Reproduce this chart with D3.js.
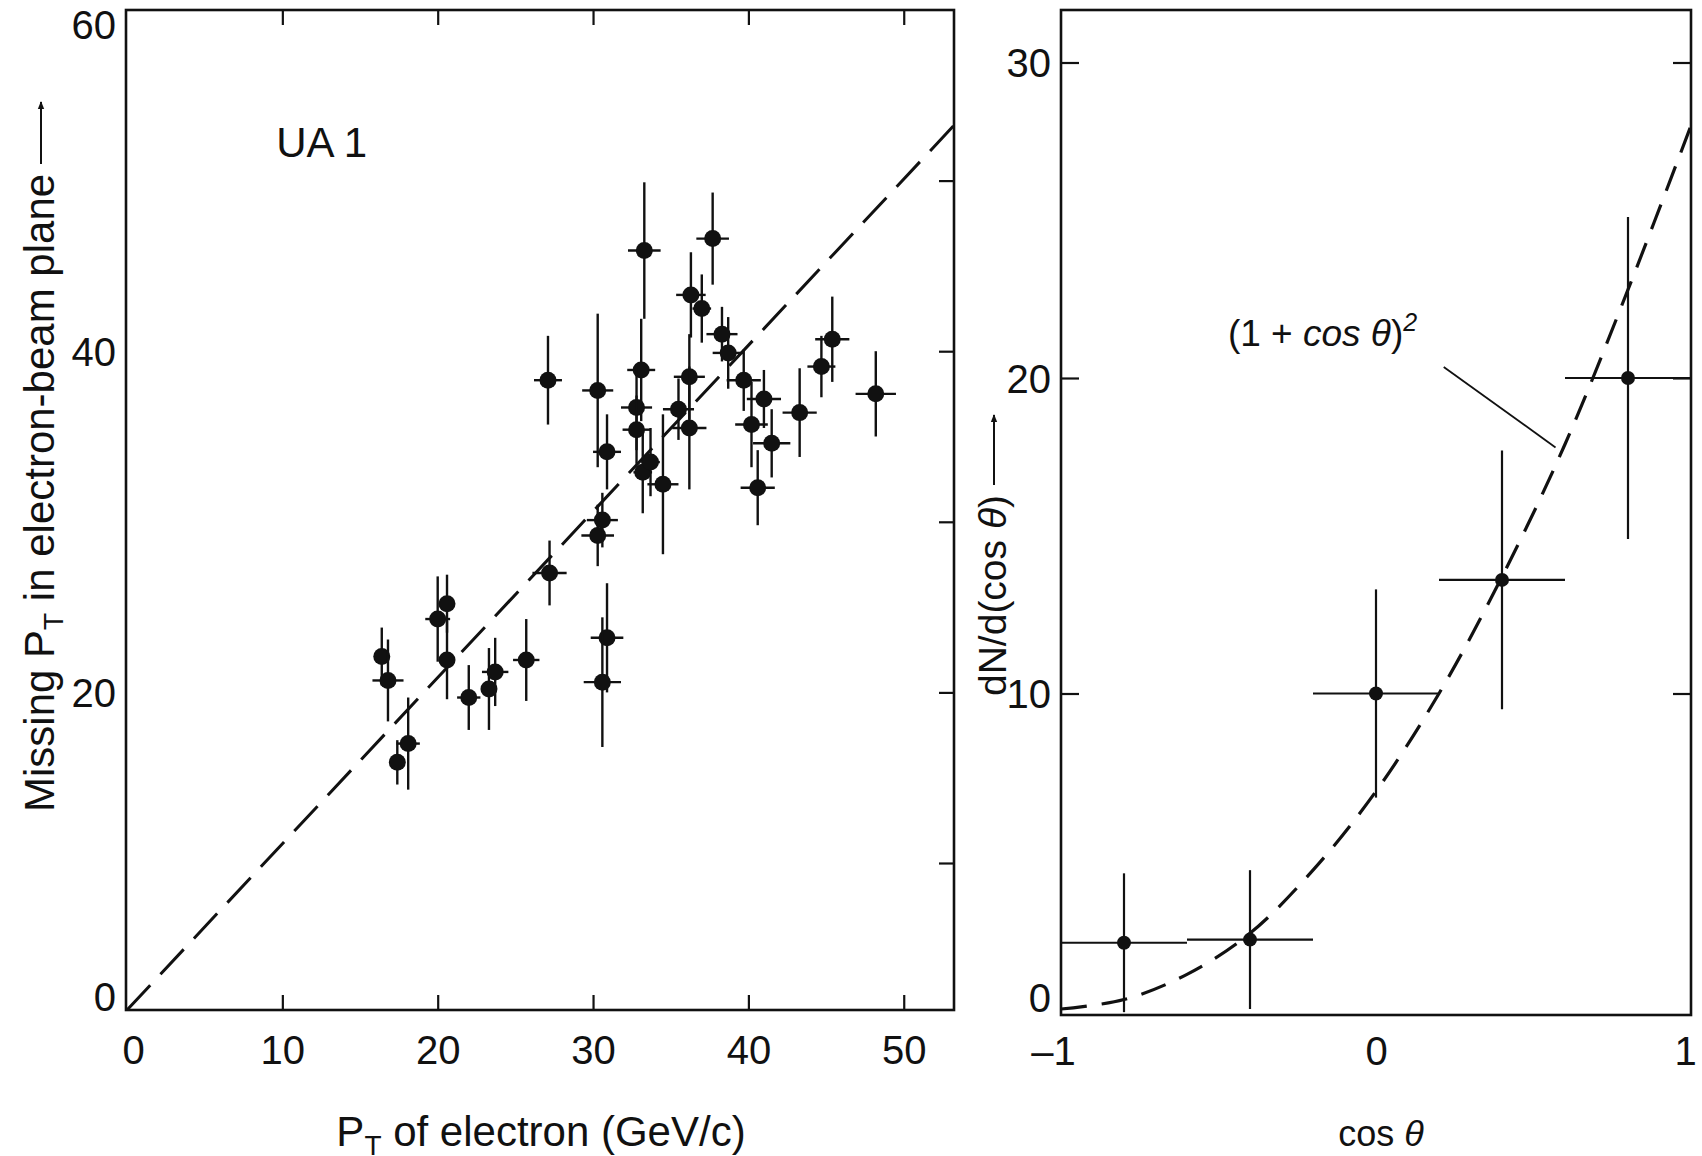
<!DOCTYPE html>
<html>
<head>
<meta charset="utf-8">
<script src="https://cdn.jsdelivr.net/npm/d3@7"></script>
<style>
  body { margin: 0; background: #fff; }
  svg { display: block; }
  .tick-label { font-family: "Liberation Sans Narrow", "Arial Narrow", "Liberation Sans", sans-serif; font-size: 40px; fill: #111; }
  .title { font-family: "Liberation Sans", Helvetica, Arial, sans-serif; font-size: 42px; fill: #111; }
</style>
</head>
<body>
<svg id="chart" width="1702" height="1156"></svg>
<script>
// left panel: missing pT vs electron pT (GeV/c), with errors
var ptElectron = [16.4, 16.8, 17.4, 18.1, 20.0, 20.6, 20.6, 22.0, 23.3, 23.7, 25.7, 27.2, 30.3, 30.6, 30.9, 30.6,
  33.2, 33.7, 34.5, 40.6, 27.1, 30.3, 33.3, 37.7, 36.3, 37.0, 38.3, 38.7, 33.1, 36.2, 32.8, 35.5, 32.8, 36.2,
  30.9, 39.7, 41.0, 40.2, 41.5, 43.3, 44.7, 45.4, 48.2];
var ptMissing = [22.1, 20.7, 15.9, 17.0, 24.3, 25.2, 21.9, 19.7, 20.2, 21.2, 21.9, 27.0, 29.2, 30.1, 23.2, 20.6,
  32.9, 33.5, 32.2, 32.0, 38.3, 37.7, 45.9, 46.6, 43.3, 42.5, 41.0, 39.9, 38.9, 38.5, 36.7, 36.6, 35.4, 35.5,
  34.1, 38.3, 37.2, 35.7, 34.6, 36.4, 39.1, 40.7, 37.5];
var ptElectronErr = [0.4, 1.0, 0.5, 0.75, 0.8, 0.5, 0.5, 0.75, 0.5, 0.85, 0.85, 1.1, 1.05, 1.0, 1.05, 1.2,
  0.6, 0.6, 1.0, 1.1, 0.9, 1.0, 1.05, 1.05, 0.95, 0.6, 1.0, 1.0, 0.9, 1.0, 1.0, 1.0, 0.9, 1.1,
  0.9, 1.1, 1.1, 1.05, 1.2, 1.1, 0.9, 1.1, 1.3];
var ptMissingErr = [1.7, 2.4, 1.3, 2.7, 2.5, 1.7, 2.3, 1.9, 2.4, 2.0, 2.4, 1.9, 1.8, 1.6, 3.2, 3.8,
  2.4, 2.0, 4.1, 2.2, 2.6, 4.5, 4.0, 2.7, 2.5, 2.0, 1.6, 2.1, 3.0, 2.5, 2.5, 1.8, 2.0, 3.6,
  2.2, 1.8, 1.7, 2.5, 2.0, 2.6, 1.8, 2.5, 2.5];
var diagonal = [[0, 0], [53.3, 53.3]];

// right panel: angular distribution
var cosBins = [-0.8, -0.4, 0.0, 0.4, 0.8];
var binHalfWidth = [0.2, 0.2, 0.2, 0.2, 0.2];
var dNdCos = [2.1, 2.2, 10.0, 13.6, 20.0];
var dNdCosErr = [2.2, 2.2, 3.3, 4.1, 5.1];
var curveCos = [-1, -0.8, -0.6, -0.4, -0.2, 0, 0.2, 0.4, 0.6, 0.8, 1];
var curveVal = [0, 0.3, 1.1, 2.4, 4.4, 6.9, 10.0, 13.7, 17.9, 22.8, 28.0];

var leftXTicks = [0, 10, 20, 30, 40, 50];
var leftYLabels = [0, 20, 40, 60];
var leftMinor = [10, 20, 30, 40, 50];
var rightXLabels = [-1, 0, 1];
var rightYLabels = [0, 10, 20, 30];

var svg = d3.select('#chart');
svg.append('rect').attr('width', 1702).attr('height', 1156).attr('fill', '#fff');

// ---- left panel ----
var L = {left: 126, right: 954, top: 10, bottom: 1010};
var x1 = d3.scaleLinear().domain([0, 53.3]).range([127, 955]);
// the printed figure is slightly squeezed below 10
var y1 = d3.scaleLinear().domain([0, 10, 60]).range([1010, 863, 10]);

var gL = svg.append('g').attr('class', 'left-panel');

gL.append('path')
  .datum(diagonal)
  .attr('d', d3.line().x(function(d) { return x1(d[0]); }).y(function(d) { return y1(d[1]); }))
  .attr('fill', 'none').attr('stroke', '#111').attr('stroke-width', 3)
  .attr('stroke-dasharray', '34,15');

var lpts = ptElectron.map(function(v, i) {
  return {x: v, y: ptMissing[i], ex: ptElectronErr[i], ey: ptMissingErr[i]};
});
var bars = gL.append('g').selectAll('g').data(lpts).enter().append('g');
bars.append('line')
  .attr('x1', function(d) { return x1(d.x - d.ex); }).attr('x2', function(d) { return x1(d.x + d.ex); })
  .attr('y1', function(d) { return y1(d.y); }).attr('y2', function(d) { return y1(d.y); })
  .attr('stroke', '#111').attr('stroke-width', 2.4);
bars.append('line')
  .attr('x1', function(d) { return x1(d.x); }).attr('x2', function(d) { return x1(d.x); })
  .attr('y1', function(d) { return y1(d.y - d.ey); }).attr('y2', function(d) { return y1(d.y + d.ey); })
  .attr('stroke', '#111').attr('stroke-width', 2.4);
bars.append('circle')
  .attr('cx', function(d) { return x1(d.x); }).attr('cy', function(d) { return y1(d.y); })
  .attr('r', 8.5).attr('fill', '#111');

// inward ticks: top, bottom, right
gL.append('g').attr('transform', 'translate(0,' + L.bottom + ')')
  .call(d3.axisTop(x1).tickValues(leftMinor).tickSize(15).tickFormat(''));
gL.append('g').attr('transform', 'translate(0,' + L.top + ')')
  .call(d3.axisBottom(x1).tickValues(leftMinor).tickSize(15).tickFormat(''));
gL.append('g').attr('transform', 'translate(' + L.right + ',0)')
  .call(d3.axisLeft(y1).tickValues(leftMinor).tickSize(15).tickFormat(''));

// labelled axes
var xl = gL.append('g').attr('transform', 'translate(0,' + L.bottom + ')')
  .call(d3.axisBottom(x1).tickValues(leftXTicks).tickSize(0).tickPadding(26).tickFormat(d3.format('d')));
xl.selectAll('text').attr('class', 'tick-label').attr('dx', function(d) { return d === 0 ? 6 : 0; });
var yl = gL.append('g').attr('transform', 'translate(' + L.left + ',0)')
  .call(d3.axisLeft(y1).tickValues(leftYLabels).tickSize(0).tickPadding(10).tickFormat(d3.format('d')));
yl.selectAll('text').attr('class', 'tick-label')
  .attr('dy', function(d) { return d === 60 ? '0.7em' : d === 0 ? '0.02em' : '0.35em'; });

gL.append('rect')
  .attr('x', L.left).attr('y', L.top).attr('width', L.right - L.left).attr('height', L.bottom - L.top)
  .attr('fill', 'none').attr('stroke', '#111').attr('stroke-width', 2.6);

gL.append('text').attr('class', 'title')
  .attr('x', x1(9.6)).attr('y', y1(51.4)).text('UA 1');

// ---- right panel ----
var R = {left: 1061, right: 1691, top: 10, bottom: 1015};
var x2 = d3.scaleLinear().domain([-1, 1]).range([1061, 1691]);
var y2 = d3.scaleLinear().domain([0, 30]).range([1009, 62.5]);

var gR = svg.append('g').attr('class', 'right-panel');

gR.append('path')
  .datum(curveCos.map(function(c, i) { return [c, curveVal[i]]; }))
  .attr('d', d3.line().curve(d3.curveCatmullRom).x(function(d) { return x2(d[0]); }).y(function(d) { return y2(d[1]); }))
  .attr('fill', 'none').attr('stroke', '#111').attr('stroke-width', 3.2)
  .attr('stroke-dasharray', '26,15');

var rpts = cosBins.map(function(c, i) {
  return {x: c, w: binHalfWidth[i], y: dNdCos[i], e: dNdCosErr[i]};
});
var rb = gR.append('g').selectAll('g').data(rpts).enter().append('g');
rb.append('line')
  .attr('x1', function(d) { return x2(Math.max(-1, d.x - d.w)); }).attr('x2', function(d) { return x2(Math.min(1, d.x + d.w)); })
  .attr('y1', function(d) { return y2(d.y); }).attr('y2', function(d) { return y2(d.y); })
  .attr('stroke', '#111').attr('stroke-width', 2.2);
rb.append('line')
  .attr('x1', function(d) { return x2(d.x); }).attr('x2', function(d) { return x2(d.x); })
  .attr('y1', function(d) { return Math.min(R.bottom, y2(d.y - d.e)); }).attr('y2', function(d) { return y2(d.y + d.e); })
  .attr('stroke', '#111').attr('stroke-width', 2.2);
rb.append('circle')
  .attr('cx', function(d) { return x2(d.x); }).attr('cy', function(d) { return y2(d.y); })
  .attr('r', 7).attr('fill', '#111');

gR.append('g').attr('transform', 'translate(' + R.left + ',0)')
  .call(d3.axisRight(y2).tickValues([10, 20, 30]).tickSize(18).tickFormat(''));
gR.append('g').attr('transform', 'translate(' + R.right + ',0)')
  .call(d3.axisLeft(y2).tickValues([10, 20, 30]).tickSize(18).tickFormat(''));

var xr = gR.append('g').attr('transform', 'translate(0,' + R.bottom + ')')
  .call(d3.axisBottom(x2).tickValues(rightXLabels).tickSize(0).tickPadding(22)
    .tickFormat(function(d) { return d < 0 ? '\u2013' + (-d) : d; }));
xr.selectAll('text').attr('class', 'tick-label')
  .attr('dx', function(d) { return d === -1 ? -8 : d === 1 ? -6 : 0; });
var yr = gR.append('g').attr('transform', 'translate(' + R.left + ',0)')
  .call(d3.axisLeft(y2).tickValues(rightYLabels).tickSize(0).tickPadding(10).tickFormat(d3.format('d')));
yr.selectAll('text').attr('class', 'tick-label')
  .attr('dy', function(d) { return d === 0 ? '0.05em' : '0.35em'; });

gR.append('rect')
  .attr('x', R.left).attr('y', R.top).attr('width', R.right - R.left).attr('height', R.bottom - R.top)
  .attr('fill', 'none').attr('stroke', '#111').attr('stroke-width', 2.6);

// formula label and leader line
var formula = gR.append('text').attr('class', 'title').style('font-size', '37px')
  .attr('x', x2(-0.47)).attr('y', y2(21.0));
formula.append('tspan').text('(1 + ');
formula.append('tspan').style('font-style', 'italic').text('cos \u03b8');
formula.append('tspan').text(')');
formula.append('tspan').attr('dy', -15).style('font-size', '25px').style('font-style', 'italic').text('2');
gR.append('line')
  .attr('x1', x2(0.215)).attr('y1', y2(20.35)).attr('x2', x2(0.57)).attr('y2', y2(17.8))
  .attr('stroke', '#111').attr('stroke-width', 1.8);

// ---- axis titles ----
var defs = svg.append('defs');
defs.append('marker').attr('id', 'head').attr('viewBox', '0 0 10 10')
  .attr('refX', 9).attr('refY', 5).attr('markerWidth', 4).attr('markerHeight', 4).attr('orient', 'auto')
  .append('path').attr('d', 'M0,1 L10,5 L0,9 Z').attr('fill', '#111');

var xt = svg.append('text').attr('class', 'title').attr('text-anchor', 'middle')
  .attr('x', 541).attr('y', 1146);
xt.append('tspan').text('P');
xt.append('tspan').attr('dy', 9).style('font-size', '28px').text('T');
xt.append('tspan').attr('dy', -9).text(' of electron (GeV/c)');

var xt2 = svg.append('text').attr('class', 'title').style('font-size', '36px').attr('text-anchor', 'middle')
  .attr('x', 1381).attr('y', 1146);
xt2.append('tspan').text('cos ');
xt2.append('tspan').style('font-style', 'italic').text('\u03b8');

// left y title, rotated, with arrow
var yt = svg.append('g').attr('transform', 'translate(54,812) rotate(-90)');
var ytText = yt.append('text').attr('class', 'title').attr('x', 0).attr('y', 0);
ytText.append('tspan').text('Missing P');
ytText.append('tspan').attr('dy', 9).style('font-size', '28px').text('T');
ytText.append('tspan').attr('dy', -9).text(' in electron-beam plane');
var ytLen = ytText.node().getComputedTextLength();
yt.append('line').attr('x1', ytLen + 10).attr('x2', ytLen + 72).attr('y1', -13).attr('y2', -13)
  .attr('stroke', '#111').attr('stroke-width', 2).attr('marker-end', 'url(#head)');

var yt2 = svg.append('g').attr('transform', 'translate(1006,696) rotate(-90)');
var yt2Text = yt2.append('text').attr('class', 'title').style('font-size', '39px').attr('x', 0).attr('y', 0);
yt2Text.append('tspan').text('dN/d(cos ');
yt2Text.append('tspan').style('font-style', 'italic').text('\u03b8');
yt2Text.append('tspan').text(')');
var yt2Len = yt2Text.node().getComputedTextLength();
yt2.append('line').attr('x1', yt2Len + 10).attr('x2', yt2Len + 80).attr('y1', -12).attr('y2', -12)
  .attr('stroke', '#111').attr('stroke-width', 2).attr('marker-end', 'url(#head)');

svg.selectAll('.domain').remove();
svg.selectAll('.tick line').attr('stroke', '#111').attr('stroke-width', 2.2);
</script>
</body>
</html>
